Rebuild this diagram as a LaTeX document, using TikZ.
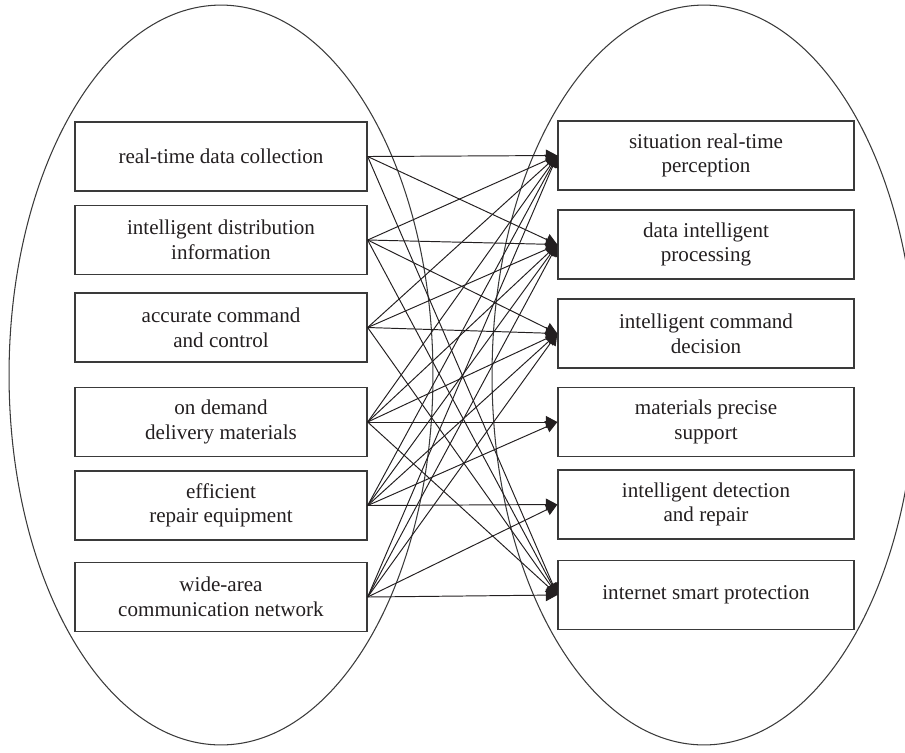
\documentclass[tikz,border=0pt]{standalone}
\usepackage{fontspec}
\setmainfont{Liberation Serif}
\usepackage{xcolor}
\usepackage{tikz}
\usetikzlibrary{arrows.meta, positioning}
\definecolor{boxgray}{HTML}{3A3A3A}
\definecolor{inkblack}{HTML}{231F20}

\begin{document}
\begin{tikzpicture}[x=0.02cm, y=-0.02cm,
    capbox/.style={draw=boxgray, line width=0.75pt, minimum width=5.84cm, minimum height=1.38cm,
      inner sep=0pt, align=center, text=inkblack, font=\fontsize{12}{14}\selectfont},
    funcbox/.style={capbox, minimum width=5.92cm},
    link/.style={inkblack, line width=0.55pt, -{Triangle[length=2.3mm, width=2.4mm]}}]
  \useasboundingbox (0,0) rectangle (905,752);
  \clip (0,0) rectangle (905,752);

  % the two groups
  \draw[boxgray, line width=0.6pt] (221,375) ellipse [x radius=4.24cm, y radius=7.4cm];
  \draw[boxgray, line width=0.6pt] (704,375) ellipse [x radius=4.24cm, y radius=7.4cm];

  % Left side - capabilities
  \node[capbox] (collect) at (221,156.5) {real-time data collection};
  \node[capbox] (distrib) at (221,240) {intelligent distribution\\information};
  \node[capbox] (command) at (221,327.5) {accurate command\\and control};
  \node[capbox] (deliver) at (221,422) {on demand\\delivery materials};
  \node[capbox] (repair) at (221,505.5) {efficient\\repair equipment};
  \node[capbox] (network) at (221,597) {wide-area\\communication network};

  % Right side - functions
  \node[funcbox] (perceive) at (706,155.5) {situation real-time\\perception};
  \node[funcbox] (process) at (706,244.5) {data intelligent\\processing};
  \node[funcbox] (decide) at (706,333.5) {intelligent command\\decision};
  \node[funcbox] (support) at (706,422) {materials precise\\support};
  \node[funcbox] (detect) at (706,504.5) {intelligent detection\\and repair};
  \node[funcbox] (protect) at (706,595) {internet smart protection};

  % links from real-time data collection
  \draw[link] (collect.east) -- (perceive.west);
  \draw[link] (collect.east) -- (process.west);
  \draw[link] (collect.east) -- (protect.west);
  % links from intelligent distribution information
  \draw[link] (distrib.east) -- (perceive.west);
  \draw[link] (distrib.east) -- (process.west);
  \draw[link] (distrib.east) -- (decide.west);
  \draw[link] (distrib.east) -- (protect.west);
  % links from accurate command and control
  \draw[link] (command.east) -- (perceive.west);
  \draw[link] (command.east) -- (process.west);
  \draw[link] (command.east) -- (decide.west);
  \draw[link] (command.east) -- (protect.west);
  % links from on demand delivery materials
  \draw[link] (deliver.east) -- (perceive.west);
  \draw[link] (deliver.east) -- (process.west);
  \draw[link] (deliver.east) -- (decide.west);
  \draw[link] (deliver.east) -- (support.west);
  \draw[link] (deliver.east) -- (protect.west);
  % links from efficient repair equipment
  \draw[link] (repair.east) -- (perceive.west);
  \draw[link] (repair.east) -- (process.west);
  \draw[link] (repair.east) -- (decide.west);
  \draw[link] (repair.east) -- (support.west);
  \draw[link] (repair.east) -- (detect.west);
  % links from wide-area communication network
  \draw[link] (network.east) -- (perceive.west);
  \draw[link] (network.east) -- (process.west);
  \draw[link] (network.east) -- (decide.west);
  \draw[link] (network.east) -- (detect.west);
  \draw[link] (network.east) -- (protect.west);
\end{tikzpicture}
\end{document}
